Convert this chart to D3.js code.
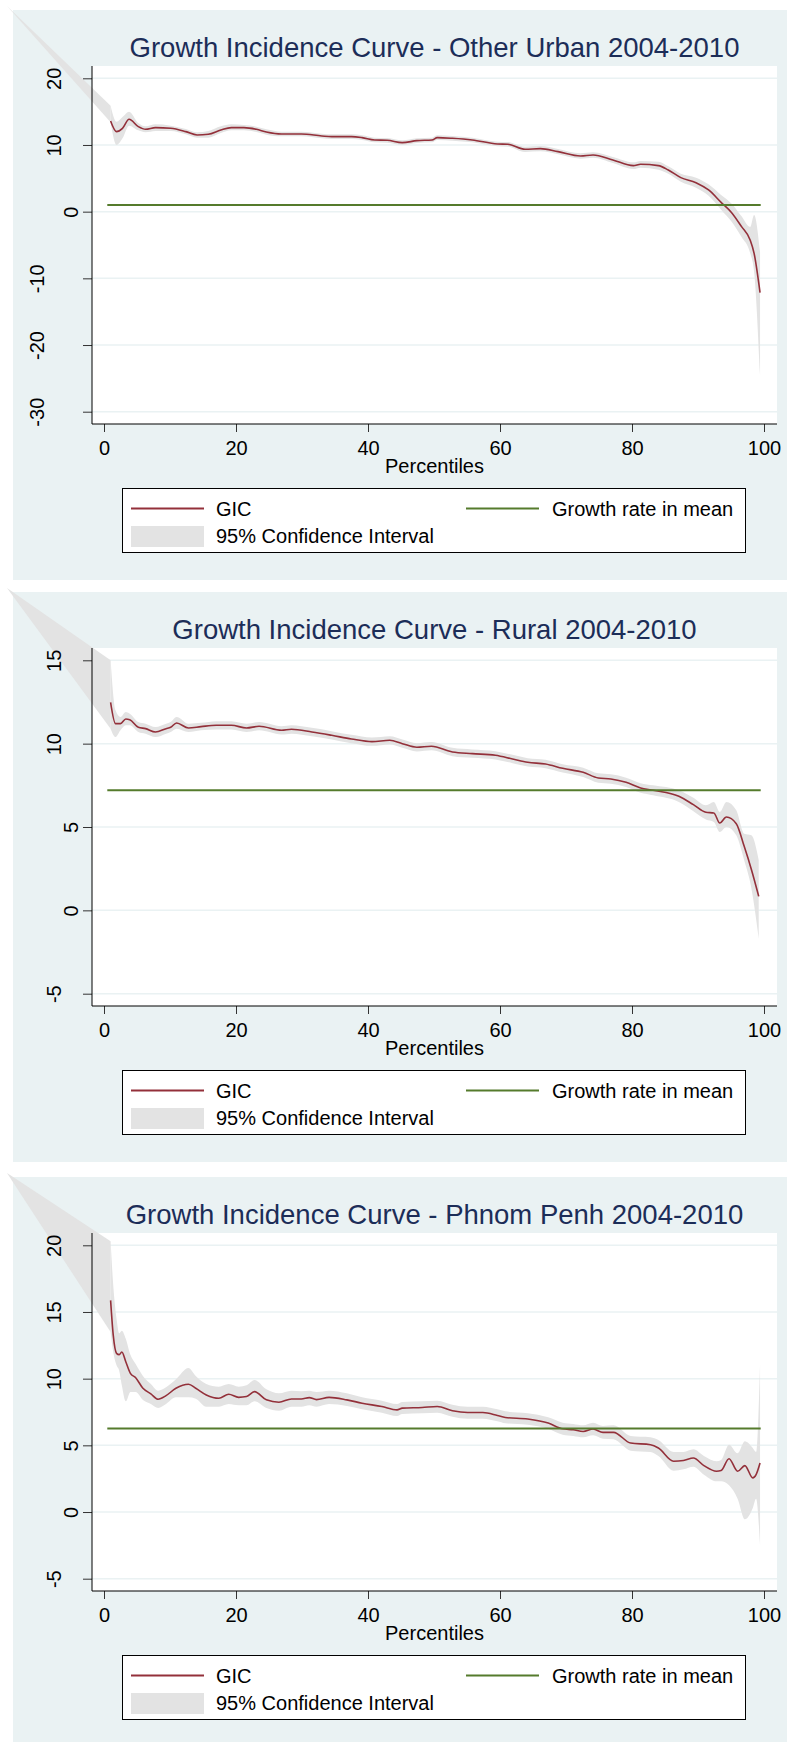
<!DOCTYPE html>
<html>
<head>
<meta charset="utf-8">
<style>
  body { margin: 0; background: #fff; }
  text { font-family: "Liberation Sans", Arial, sans-serif; }
</style>
</head>
<body>
<div id="gic"></div>
<script src="https://d3js.org/d3.v7.min.js"></script>
<script>
// ---- data ----
const xTicks = [0, 20, 40, 60, 80, 100];
const meanSpan = [0.5, 99.5];
const legendLabels = ['GIC', 'Growth rate in mean', '95% Confidence Interval'];

// Other Urban
const urbanTitle = 'Growth Incidence Curve - Other Urban 2004-2010';
const urbanTicks = [-30, -20, -10, 0, 10, 20];
const urbanMean = 1.0;
const urbanPct = [1, 1.9, 2.8, 3.8, 5.2, 6.3, 7.8, 10.1, 12.4, 14.1, 15.8, 17.7, 19.3, 21.2, 23.1, 24.6, 26.9, 29.9, 33, 34.5, 37.5, 39.1, 41, 42.9, 45.2, 47.4, 49.7, 50.5, 52.8, 55.8, 59.6, 61.2, 63.8, 66.1, 68.8, 72.2, 74.1, 77.1, 80.2, 81.3, 84, 85.5, 87.4, 89.7, 91.6, 93.5, 95.1, 96.6, 97.9, 98.5, 99.4];
const urbanGic = [13.6, 12.0, 12.5, 13.85, 12.75, 12.35, 12.6, 12.5, 12.0, 11.5, 11.6, 12.25, 12.6, 12.6, 12.35, 11.95, 11.65, 11.65, 11.35, 11.25, 11.25, 11.1, 10.75, 10.7, 10.35, 10.65, 10.75, 11.1, 11.0, 10.75, 10.15, 10.1, 9.35, 9.45, 9.0, 8.35, 8.5, 7.75, 6.9, 7.1, 6.9, 6.25, 5.1, 4.35, 3.25, 1.4, -0.15, -2.25, -4.25, -6.25, -12.15];
const urbanLo = [13.4, 10.0, 11.0, 12.9, 12.2, 11.9, 12.1, 12.1, 11.6, 11.1, 11.1, 11.8, 12.2, 12.2, 11.95, 11.55, 11.3, 11.3, 11.0, 10.9, 10.9, 10.75, 10.4, 10.35, 10.0, 10.3, 10.4, 10.75, 10.65, 10.4, 9.8, 9.75, 8.95, 9.05, 8.6, 7.95, 8.1, 7.3, 6.4, 6.6, 6.3, 5.7, 4.5, 3.6, 2.4, 0.3, -1.5, -3.8, -6.2, -9.0, -24.5];
const urbanHi = [15.9, 13.5, 14.2, 15.0, 13.3, 12.8, 13.1, 12.9, 12.4, 11.9, 12.1, 12.8, 13.1, 13.0, 12.75, 12.35, 12.0, 12.0, 11.7, 11.6, 11.6, 11.45, 11.1, 11.05, 10.7, 11.0, 11.1, 11.45, 11.35, 11.1, 10.5, 10.45, 9.75, 9.85, 9.4, 8.75, 8.9, 8.2, 7.4, 7.6, 7.5, 6.8, 5.7, 5.1, 4.1, 2.5, 1.2, -0.7, -2.3, -0.5, -6.0];

// Rural
const ruralTitle = 'Growth Incidence Curve - Rural 2004-2010';
const ruralTicks = [-5, 0, 5, 10, 15];
const ruralMean = 7.2;
const ruralPct = [1, 1.75, 2.5, 3.3, 3.9, 5.2, 6.3, 7.8, 9.4, 10.1, 11, 12.8, 14.7, 17, 19.3, 21.6, 23.5, 26.9, 28.4, 31.5, 34.5, 37.5, 40.6, 43.3, 45.2, 47.4, 49.6, 52.8, 55.8, 59.3, 61.9, 64.2, 66.9, 69.5, 72.6, 74.9, 76.8, 79.1, 81.3, 83.2, 87.1, 89.3, 91.2, 92.4, 93.3, 94.3, 95.8, 97, 98.1, 99.2];
const ruralGic = [12.48, 11.2, 11.2, 11.48, 11.44, 10.98, 10.9, 10.7, 10.9, 10.98, 11.24, 10.94, 11.02, 11.1, 11.1, 10.94, 11.04, 10.8, 10.86, 10.7, 10.5, 10.28, 10.12, 10.2, 10.0, 9.78, 9.84, 9.5, 9.4, 9.3, 9.08, 8.88, 8.78, 8.52, 8.28, 7.94, 7.88, 7.68, 7.34, 7.2, 6.84, 6.34, 5.88, 5.84, 5.24, 5.6, 5.2, 3.84, 2.44, 0.84];
const ruralLo = [10.9, 10.4, 10.8, 11.1, 11.1, 10.7, 10.6, 10.4, 10.6, 10.7, 10.9, 10.7, 10.8, 10.85, 10.85, 10.7, 10.8, 10.55, 10.6, 10.45, 10.25, 10.03, 9.87, 9.95, 9.75, 9.53, 9.6, 9.25, 9.15, 9.05, 8.83, 8.63, 8.53, 8.27, 8.0, 7.66, 7.6, 7.4, 7.05, 6.9, 6.5, 5.95, 5.45, 5.3, 4.7, 5.0, 4.5, 3.0, 1.3, -1.7];
const ruralHi = [15.0, 12.0, 11.6, 11.9, 11.8, 11.3, 11.2, 11.0, 11.2, 11.3, 11.6, 11.2, 11.25, 11.35, 11.35, 11.2, 11.3, 11.05, 11.1, 10.95, 10.75, 10.53, 10.37, 10.45, 10.25, 10.03, 10.1, 9.75, 9.65, 9.55, 9.33, 9.13, 9.03, 8.77, 8.56, 8.22, 8.16, 7.96, 7.63, 7.5, 7.2, 6.75, 6.3, 6.5, 5.9, 6.5, 6.0, 4.6, 4.5, 3.0];

// Phnom Penh
const ppTitle = 'Growth Incidence Curve - Phnom Penh 2004-2010';
const ppTicks = [-5, 0, 5, 10, 15, 20];
const ppMean = 6.27;
const ppPct = [1, 1.4, 1.9, 2.3, 2.7, 3.3, 4.0, 4.8, 5.9, 7.1, 8.2, 9.4, 10.9, 12.8, 13.9, 15.5, 17.4, 18.9, 20.4, 21.6, 22.8, 24.6, 26.5, 28.4, 29.9, 31.1, 32.2, 34.1, 36.8, 39.1, 42.1, 44.4, 45.2, 48.2, 50.5, 52.8, 55.1, 57.4, 59.6, 60.8, 64.2, 67.3, 69.5, 71.1, 72.6, 74.1, 75.6, 77.2, 79.8, 82.8, 84, 86.3, 87.8, 89.3, 90.9, 92.8, 93.5, 94.7, 96, 97.1, 98.3, 98.8, 99.4];
const ppGic = [15.87, 13.26, 11.9, 11.8, 12.0, 11.27, 10.4, 10.07, 9.28, 8.86, 8.46, 8.73, 9.28, 9.58, 9.28, 8.78, 8.53, 8.83, 8.6, 8.66, 9.03, 8.41, 8.23, 8.48, 8.48, 8.58, 8.43, 8.6, 8.41, 8.16, 7.91, 7.66, 7.79, 7.84, 7.91, 7.59, 7.46, 7.46, 7.24, 7.09, 6.97, 6.67, 6.24, 6.17, 6.04, 6.22, 5.97, 5.97, 5.17, 5.05, 4.8, 3.81, 3.86, 4.05, 3.48, 3.06, 3.11, 4.0, 3.06, 3.48, 2.56, 2.81, 3.68];
const ppLo = [13.5, 12.0, 11.0, 10.6, 9.5, 8.3, 9.0, 9.0, 8.4, 8.1, 7.8, 8.1, 8.6, 8.6, 8.5, 7.9, 7.9, 8.1, 8.0, 8.0, 8.3, 7.8, 7.6, 7.9, 7.9, 8.0, 7.9, 8.1, 7.95, 7.7, 7.45, 7.2, 7.35, 7.4, 7.45, 7.15, 7.0, 7.0, 6.8, 6.65, 6.55, 6.25, 5.8, 5.7, 5.6, 5.75, 5.5, 5.45, 4.6, 4.5, 4.2, 3.1, 3.2, 3.4, 2.8, 2.3, 2.3, 2.0, 1.0, -0.55, 0.3, 1.0, -2.5];
const ppHi = [20.3, 17.0, 14.5, 13.4, 13.6, 13.0, 11.8, 11.1, 10.2, 9.6, 9.1, 9.35, 9.95, 10.8, 10.2, 9.6, 9.4, 9.6, 9.4, 9.5, 9.9, 9.2, 8.9, 9.1, 9.05, 9.1, 9.0, 9.1, 8.9, 8.6, 8.35, 8.1, 8.25, 8.3, 8.35, 8.05, 7.9, 7.9, 7.7, 7.55, 7.4, 7.1, 6.7, 6.6, 6.5, 6.7, 6.45, 6.5, 5.7, 5.6, 5.4, 4.5, 4.5, 4.7, 4.2, 3.8, 3.9, 5.05, 4.4, 5.3, 4.8, 4.5, 11.07];

const panels = [
  {title: urbanTitle, pct: urbanPct, gic: urbanGic, lo: urbanLo, hi: urbanHi, mean: urbanMean, ticks: urbanTicks, top: 10},
  {title: ruralTitle, pct: ruralPct, gic: ruralGic, lo: ruralLo, hi: ruralHi, mean: ruralMean, ticks: ruralTicks, top: 592},
  {title: ppTitle, pct: ppPct, gic: ppGic, lo: ppLo, hi: ppHi, mean: ppMean, ticks: ppTicks, top: 1177}
];

// ---- layout ----
const W = 787, H = 1742;
const bg = '#eaf2f3', gicColor = '#93303a', meanColor = '#557b2c', ciColor = '#e3e3e3', titleColor = '#1c2d58';
const plotL = 92, plotR = 777, plotT = 56, plotB = 414;

const svg = d3.select('#gic').append('svg')
  .attr('width', W).attr('height', H);

const x = d3.scaleLinear().domain([0, 100]).range([104, 764]);

panels.forEach(p => {
  const g = svg.append('g').attr('transform', `translate(0,${p.top})`);
  const y = d3.scaleLinear().domain(d3.extent(p.ticks)).range([401.7, 68.3]);
  const rows = p.pct.map((d, i) => ({p: d, v: p.gic[i], lo: p.lo[i], hi: p.hi[i]}));

  g.append('rect').attr('x', 13).attr('y', 0).attr('width', W - 13).attr('height', 570).attr('fill', bg);
  g.append('rect').attr('x', plotL).attr('y', plotT).attr('width', plotR - plotL).attr('height', plotB - plotT).attr('fill', '#fff');

  // grid
  g.append('g').selectAll('line').data(p.ticks).enter().append('line')
    .attr('x1', plotL).attr('x2', plotR)
    .attr('y1', d => y(d)).attr('y2', d => y(d))
    .attr('stroke', bg).attr('stroke-width', 1.5);

  // CI band (with the stray wedge to the panel corner seen in the original)
  const first = rows[0];
  g.append('path')
    .attr('d', `M7,-4L${x(first.p)},${y(first.hi)}L${x(first.p)},${y(first.lo)}Z`)
    .attr('fill', ciColor);
  g.append('path').datum(rows)
    .attr('d', d3.area().x(d => x(d.p)).y0(d => y(d.lo)).y1(d => y(d.hi)).curve(d3.curveMonotoneX))
    .attr('fill', ciColor);

  // GIC line
  g.append('path').datum(rows)
    .attr('d', d3.line().x(d => x(d.p)).y(d => y(d.v)).curve(d3.curveMonotoneX))
    .attr('fill', 'none').attr('stroke', gicColor).attr('stroke-width', 1.6);

  // mean growth line
  g.append('line')
    .attr('x1', x(meanSpan[0])).attr('x2', x(meanSpan[1]))
    .attr('y1', y(p.mean)).attr('y2', y(p.mean))
    .attr('stroke', meanColor).attr('stroke-width', 2);

  // axes
  const ya = g.append('g').attr('transform', `translate(${plotL},0)`)
    .call(d3.axisLeft(y).tickValues(p.ticks).tickFormat(d => String(d)).tickSize(9).tickSizeOuter(0));
  ya.select('.domain').remove();
  ya.selectAll('.tick line').attr('stroke', '#333');
  ya.selectAll('.tick text')
    .attr('x', null).attr('dy', null)
    .attr('text-anchor', 'middle')
    .attr('font-size', 20).attr('fill', '#000')
    .attr('transform', d => `translate(${78 - plotL - 17 * (String(d).length - 1)},0) rotate(-90)`);

  const xa = g.append('g').attr('transform', `translate(0,${plotB})`)
    .call(d3.axisBottom(x).tickValues(xTicks).tickFormat(d => String(d)).tickSize(8).tickSizeOuter(0));
  xa.select('.domain').remove();
  xa.selectAll('.tick line').attr('stroke', '#333');
  xa.selectAll('.tick text').attr('dy', null).attr('y', 31).attr('font-size', 20).attr('fill', '#000');

  g.append('line').attr('x1', plotL).attr('x2', plotL).attr('y1', plotT).attr('y2', plotB).attr('stroke', '#000');
  g.append('line').attr('x1', plotL).attr('x2', plotR).attr('y1', plotB).attr('y2', plotB).attr('stroke', '#000');

  g.append('text').attr('x', (plotL + plotR) / 2).attr('y', 462.5)
    .attr('text-anchor', 'middle').attr('font-size', 20).text('Percentiles');

  g.append('text').attr('x', (plotL + plotR) / 2).attr('y', 46.5)
    .attr('text-anchor', 'middle').attr('font-size', 27.5).attr('fill', titleColor).text(p.title);

  // legend
  const lg = g.append('g');
  lg.append('rect').attr('x', 122.5).attr('y', 478.5).attr('width', 623).attr('height', 64)
    .attr('fill', '#fff').attr('stroke', '#000');
  lg.append('line').attr('x1', 131).attr('x2', 204).attr('y1', 498.5).attr('y2', 498.5)
    .attr('stroke', gicColor).attr('stroke-width', 2);
  lg.append('text').attr('x', 216).attr('y', 505.5).attr('font-size', 20).text(legendLabels[0]);
  lg.append('line').attr('x1', 466).attr('x2', 539).attr('y1', 498.5).attr('y2', 498.5)
    .attr('stroke', meanColor).attr('stroke-width', 2);
  lg.append('text').attr('x', 552).attr('y', 505.5).attr('font-size', 20).text(legendLabels[1]);
  lg.append('rect').attr('x', 131).attr('y', 516).attr('width', 73).attr('height', 21).attr('fill', ciColor);
  lg.append('text').attr('x', 216).attr('y', 533).attr('font-size', 20).text(legendLabels[2]);
});
</script>
</body>
</html>
